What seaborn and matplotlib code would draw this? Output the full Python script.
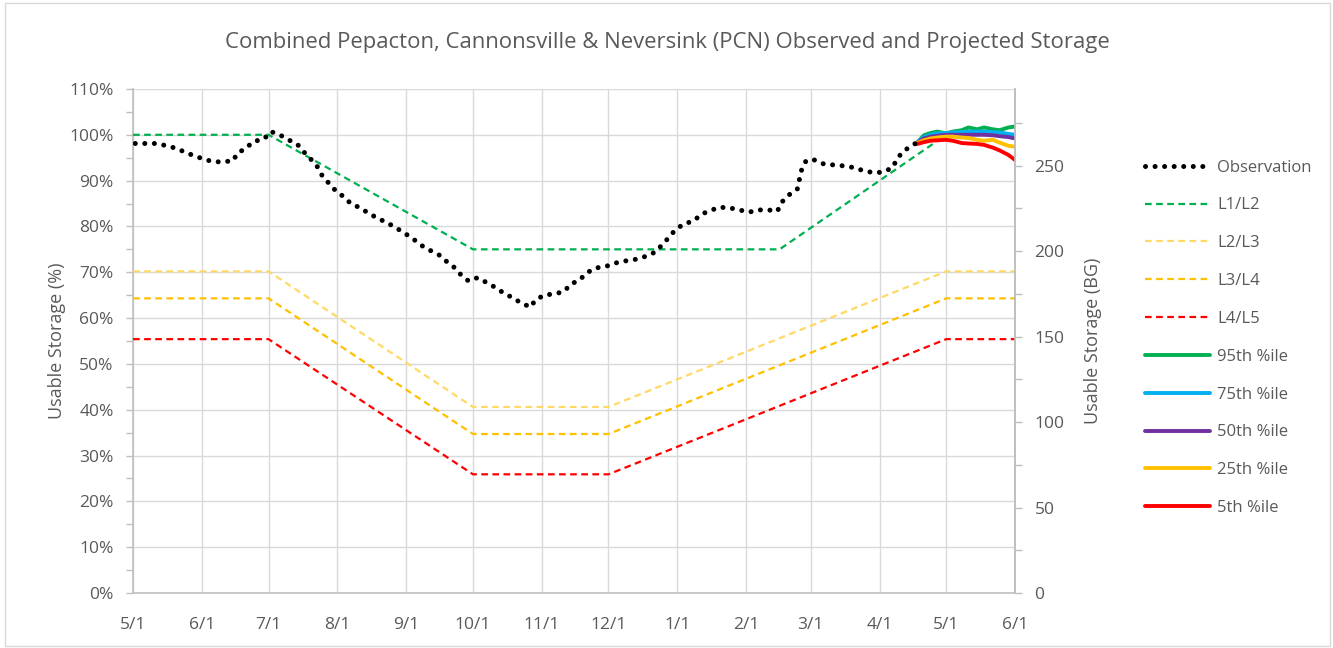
import pandas as pd
import numpy as np
import matplotlib
matplotlib.use("Agg")
import matplotlib.pyplot as plt
import matplotlib.dates as mdates
from matplotlib.ticker import MultipleLocator, FuncFormatter
from matplotlib.patches import Rectangle
import seaborn as sns

sns.set_style("white")
plt.rcParams['font.family'] = ['Open Sans', 'DejaVu Sans']

# PCN combined usable capacity (BG)
capacity = 268.0

# observed storage (% usable)
obs_dates = ['2023-05-02', '2023-05-07', '2023-05-12', '2023-05-16', '2023-05-20', '2023-05-25',
             '2023-05-29', '2023-06-02', '2023-06-06', '2023-06-10', '2023-06-15', '2023-06-17',
             '2023-06-21', '2023-06-24', '2023-06-29', '2023-07-02', '2023-07-06', '2023-07-10',
             '2023-07-14', '2023-07-17', '2023-07-20', '2023-07-23', '2023-07-25', '2023-07-28',
             '2023-07-31', '2023-08-04', '2023-08-07', '2023-08-11', '2023-08-15', '2023-08-19',
             '2023-08-23', '2023-08-27', '2023-08-31', '2023-09-04', '2023-09-08', '2023-09-12',
             '2023-09-16', '2023-09-19', '2023-09-23', '2023-09-26', '2023-09-29', '2023-10-03',
             '2023-10-07', '2023-10-11', '2023-10-15', '2023-10-19', '2023-10-23', '2023-10-27',
             '2023-10-29', '2023-11-02', '2023-11-07', '2023-11-11', '2023-11-14', '2023-11-18',
             '2023-11-21', '2023-11-25', '2023-11-30', '2023-12-04', '2023-12-09', '2023-12-13',
             '2023-12-18', '2023-12-22', '2023-12-25', '2023-12-28', '2023-12-31', '2024-01-04',
             '2024-01-08', '2024-01-12', '2024-01-16', '2024-01-20', '2024-01-25', '2024-01-29',
             '2024-02-02', '2024-02-07', '2024-02-11', '2024-02-15', '2024-02-17', '2024-02-20',
             '2024-02-24', '2024-02-25', '2024-02-26', '2024-02-28', '2024-03-03', '2024-03-07',
             '2024-03-12', '2024-03-16', '2024-03-21', '2024-03-25', '2024-03-30', '2024-04-03',
             '2024-04-07', '2024-04-09', '2024-04-12', '2024-04-16', '2024-04-18']
obs_pct = [98.1, 98.1, 98.1, 97.6, 97.1, 96.1,
           95.3, 94.7, 94.1, 94.1, 94.3, 96.0,
           97.1, 98.5, 99.1, 100.7, 100.0, 98.9,
           97.9, 96.2, 94.7, 93.0, 91.2, 89.5,
           87.9, 86.4, 85.0, 84.1, 82.9, 81.8,
           80.9, 79.8, 78.6, 77.3, 75.8, 74.7,
           73.7, 72.4, 70.9, 69.2, 68.1, 68.8,
           67.8, 66.7, 65.4, 64.4, 63.2, 62.4,
           63.9, 65.0, 65.3, 65.8, 67.4, 68.3,
           69.8, 70.9, 71.3, 72.0, 72.5, 72.8,
           73.5, 74.4, 75.9, 77.5, 79.2, 80.6,
           81.1, 82.7, 83.5, 84.2, 84.0, 83.6,
           83.1, 83.6, 83.6, 83.3, 85.3, 86.8,
           88.2, 90.4, 92.5, 94.4, 94.5, 93.6,
           93.4, 93.2, 92.8, 92.1, 91.7, 91.9,
           92.9, 94.9, 96.5, 97.8, 98.3]

# drought rule curves
l1_dates = ['2023-05-01', '2023-07-01', '2023-10-01', '2024-02-16', '2024-05-01', '2024-06-01']
l1_l2 = [100, 100, 75, 75, 100, 100]
low_dates = ['2023-05-01', '2023-07-01', '2023-10-01', '2023-12-01', '2024-05-01', '2024-06-01']
l2_l3 = [70.2, 70.2, 40.6, 40.6, 70.2, 70.2]
l3_l4 = [64.3, 64.3, 34.7, 34.7, 64.3, 64.3]
l4_l5 = [55.4, 55.4, 25.9, 25.9, 55.4, 55.4]

# projected storage percentiles
proj_dates = ['2024-04-18', '2024-04-21', '2024-04-24', '2024-04-27', '2024-05-01', '2024-05-04',
              '2024-05-08', '2024-05-11', '2024-05-15', '2024-05-18', '2024-05-22', '2024-05-25',
              '2024-05-29', '2024-06-01']
p95 = [98.3, 99.9, 100.4, 100.7, 100.3, 100.7, 101.0, 101.6, 101.2, 101.6, 101.2, 101.0, 101.6, 101.8]
p75 = [98.3, 99.5, 100.0, 100.3, 100.4, 100.5, 100.6, 100.7, 100.7, 100.7, 100.6, 100.5, 100.2, 100.0]
p50 = [98.3, 99.2, 99.6, 99.8, 100.0, 100.0, 100.0, 100.0, 100.0, 100.0, 99.9, 99.7, 99.5, 99.2]
p25 = [98.2, 98.8, 99.2, 99.4, 99.6, 99.6, 99.4, 99.3, 98.9, 98.7, 98.9, 98.3, 97.6, 97.4]
p05 = [98.0, 98.4, 98.7, 98.8, 98.9, 98.7, 98.2, 98.1, 98.0, 97.8, 97.2, 96.6, 95.6, 94.5]

month_ticks = pd.date_range('2023-05-01', '2024-06-01', freq='MS')

txt = '#595959'
grid_c = '#D9D9D9'
axis_c = '#BFBFBF'

fig = plt.figure(figsize=(13.33, 6.48), dpi=100)
ax = fig.add_axes([0.0998, 0.0849, 0.6617, 0.7778])
fig.patches.append(Rectangle((0.004, 0.003), 0.994, 0.992, transform=fig.transFigure,
                             fill=False, edgecolor=grid_c, linewidth=1))

dash = (0, (3, 2))
rules = [(l1_dates, l1_l2, 'L1/L2', '#00B050'),
         (low_dates, l2_l3, 'L2/L3', '#FFD966'),
         (low_dates, l3_l4, 'L3/L4', '#FFC000'),
         (low_dates, l4_l5, 'L4/L5', '#FF0000')]
projs = [(p95, '95th %ile', '#00B050'),
         (p75, '75th %ile', '#00B0F0'),
         (p50, '50th %ile', '#7030A0'),
         (p25, '25th %ile', '#FFC000'),
         (p05, '5th %ile', '#FF0000')]

sns.lineplot(x=pd.to_datetime(obs_dates), y=obs_pct, ax=ax, color='black', lw=3.6,
             linestyle=(0, (0.01, 1.9)), dash_capstyle='round', label='Observation', zorder=5)
for d, v, name, c in rules:
    sns.lineplot(x=pd.to_datetime(d), y=v, ax=ax, color=c, lw=1.6, linestyle=dash,
                 label=name, zorder=3)
for v, name, c in projs:
    sns.lineplot(x=pd.to_datetime(proj_dates), y=v, ax=ax, color=c, lw=2.8,
                 label=name, zorder=4, solid_capstyle='round')

ax.set_xlim(month_ticks[0], month_ticks[-1])
ax.set_ylim(0, 110)
ax.set_xticks(month_ticks)
ax.xaxis.set_major_formatter(FuncFormatter(lambda x, p: f'{mdates.num2date(x).month}/1'))
ax.yaxis.set_major_locator(MultipleLocator(10))
ax.yaxis.set_minor_locator(MultipleLocator(5))
ax.yaxis.set_major_formatter(FuncFormatter(lambda y, p: f'{y:.0f}%'))
ax.grid(True, which='major', color=grid_c, lw=1)
ax.set_axisbelow(True)
for s in ['left', 'bottom', 'right']:
    ax.spines[s].set_color(axis_c)
    ax.spines[s].set_linewidth(1.2)
ax.spines['top'].set_visible(False)
ax.tick_params(axis='both', which='both', colors=axis_c, labelcolor=txt, labelsize=12.5,
               direction='out', length=5, width=1)
ax.tick_params(axis='x', pad=12)
ax.tick_params(axis='y', pad=9)
ax.set_ylabel('Usable Storage (%)', color=txt, fontsize=13, labelpad=2)
ax.set_xlabel('')

ax2 = ax.twinx()
ax2.set_ylim(0, 1.1 * capacity)
ax2.yaxis.set_major_locator(MultipleLocator(50))
ax2.yaxis.set_minor_locator(MultipleLocator(25))
ax2.tick_params(axis='y', which='both', colors=axis_c, labelcolor=txt, labelsize=12.5,
                direction='out', length=5, width=1, pad=9)
for s in ['left', 'bottom', 'top']:
    ax2.spines[s].set_visible(False)
ax2.spines['right'].set_color(axis_c)
ax2.spines['right'].set_linewidth(1.2)
ax2.set_ylabel('Usable Storage (BG)', color=txt, fontsize=13, labelpad=14)

fig.suptitle('Combined Pepacton, Cannonsville & Neversink (PCN) Observed and Projected Storage',
             x=0.501, y=0.935, va='center', fontsize=15.9, color=txt)

handles, labels = ax.get_legend_handles_labels()
ax.get_legend().remove()
fig.legend(handles, labels, loc='upper left', bbox_to_anchor=(0.848, 0.777), frameon=False,
           fontsize=12, labelcolor=txt, handlelength=3.9, handletextpad=0.4, labelspacing=1.31)

plt.savefig('out.png', dpi=100)
